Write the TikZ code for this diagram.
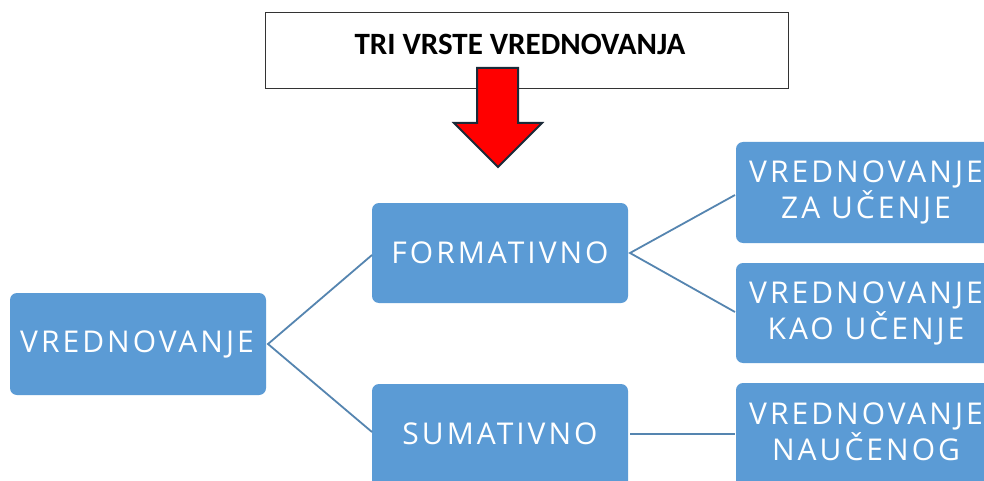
\documentclass[tikz,border=0pt]{standalone}
\usepackage{fontspec}
\setmainfont{Open Sans}
\newfontfamily\titlefont{Carlito}
\newfontfamily\boxfont[LetterSpace=10]{Open Sans}
\definecolor{boxblue}{HTML}{5B9BD5}
\definecolor{linkblue}{HTML}{5585B0}
\definecolor{arrowred}{HTML}{FF0000}
\definecolor{arrowedge}{HTML}{1B2A38}
\tikzset{
  bluebox/.style={draw=none, fill=boxblue, rounded corners=7pt, inner sep=0pt},
  boxtext/.style={text=white, font=\boxfont\fontsize{30}{36}\selectfont, align=center, inner sep=0pt},
  link/.style={draw=linkblue, line width=1.8pt},
}
\begin{document}
\begin{tikzpicture}[x=1pt,y=-1pt]
\useasboundingbox (0,0) rectangle (984,481);
\clip (0,0) rectangle (984,481);
\fill[white] (0,0) rectangle (984,481);
% title
\node[draw=black!80, line width=1.3pt, minimum width=523pt, minimum height=76pt, inner sep=0pt, anchor=north west] (title) at (265,12) {};
\node[font=\titlefont\bfseries\fontsize{31}{36}\selectfont, inner sep=0pt] (titletext) at (520,44) {TRI VRSTE VREDNOVANJA};
% red arrow
\filldraw[fill=arrowred, draw=arrowedge, line width=2pt, line join=miter]
  (477,68) -- (518,68) -- (518,123) -- (542,123) -- (498,167) -- (454,123) -- (477,123) -- cycle;
% boxes
\path[bluebox] (10,293) rectangle (266,395);
\node[boxtext] (vred) at (137,344) {VREDNOVANJE};
\coordinate (vredR) at (268,344);
\path[bluebox] (372,203) rectangle (628,303);
\node[boxtext] (form) at (500,253) {FORMATIVNO};
\path[bluebox] (372,384) rectangle (628,500);
\node[boxtext] (sum) at (500,434) {SUMATIVNO};
\path[bluebox] (736,142) rectangle (1000,243);
\node[boxtext] (za) at (866,192) {VREDNOVANJE\\ZA UČENJE};
\path[bluebox] (736,263) rectangle (1000,363);
\node[boxtext] (kao) at (866,313) {VREDNOVANJE\\KAO UČENJE};
\path[bluebox] (736,383) rectangle (1000,500);
\node[boxtext] (nauc) at (866,432) {VREDNOVANJE\\NAUČENOG};
% connectors
\coordinate (formL) at (372,255);
\coordinate (sumL) at (372,432);
\coordinate (formR) at (630,253);
\coordinate (zaL) at (735,195);
\coordinate (kaoL) at (735,312);
\coordinate (sumR) at (630,434);
\coordinate (naucL) at (735,434);
\draw[link] (formL) -- (vredR) -- (sumL);
\draw[link] (zaL) -- (formR) -- (kaoL);
\draw[link] (sumR) -- (naucL);
\end{tikzpicture}
\end{document}
